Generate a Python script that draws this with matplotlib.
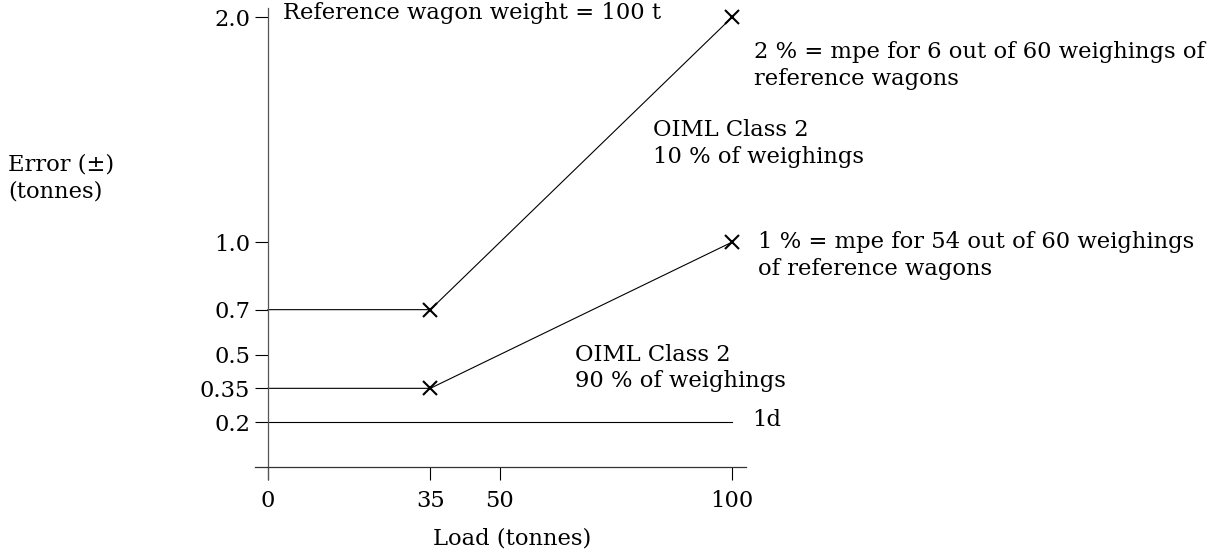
import matplotlib
matplotlib.use("Agg")
import matplotlib.pyplot as plt

# ─────────────────────────────────────────────────────────────
#  Data
# ─────────────────────────────────────────────────────────────
load = [0, 35, 100]
class2_10pct = [0.7, 0.7, 2.0]
class2_90pct = [0.35, 0.35, 1.0]
one_d_load = [0, 100]
one_d = [0.2, 0.2]

x_ticks = [0, 35, 50, 100]
y_ticks = [0.2, 0.35, 0.5, 0.7, 1.0, 2.0]
y_tick_labels = ["0.2", "0.35", "0.5", "0.7", "1.0", "2.0"]

plt.rcParams["font.family"] = ["DejaVu Serif"]
FS = 16.3
LS = 1.27

fig = plt.figure(figsize=(12.24, 5.58), dpi=100)
ax = fig.add_axes([0.2083, 0.1409, 0.401, 0.844])
ax.set_xlim(-2.8, 103)
ax.set_ylim(-0.055, 2.04)

# lines + markers
ax.plot(load, class2_10pct, color="black", lw=0.8)
ax.plot(load, class2_90pct, color="black", lw=0.8)
ax.plot(one_d_load, one_d, color="black", lw=0.8)
ax.plot(load[1:], class2_10pct[1:], ls="none", marker="x", ms=10,
        mew=1.5, color="black")
ax.plot(load[1:], class2_90pct[1:], ls="none", marker="x", ms=10,
        mew=1.5, color="black")

# axes styling
for s in ("top", "right"):
    ax.spines[s].set_visible(False)
ax.spines["left"].set_position(("data", 0))
ax.spines["bottom"].set_position(("data", 0))
ax.spines["left"].set_color("#555555")
ax.spines["bottom"].set_color("#333333")
ax.spines["left"].set_linewidth(0.9)
ax.spines["bottom"].set_linewidth(0.9)

ax.set_xticks(x_ticks)
ax.set_xticklabels([str(v) for v in x_ticks])
ax.set_yticks(y_ticks)
ax.set_yticklabels(y_tick_labels)
ax.tick_params(axis="y", direction="out", length=9.4, width=0.8,
               pad=3.5, labelsize=FS)
ax.tick_params(axis="x", direction="out", length=9.4, width=0.8,
               pad=7, labelsize=FS)

# annotations
ax.text(3.2, 2.07, "Reference wagon weight = 100 t", fontsize=FS,
        va="top", ha="left", clip_on=False)
ax.text(104.8, 1.785, "2 % = mpe for 6 out of 60 weighings of\nreference wagons",
        fontsize=FS, va="center", ha="left", linespacing=LS)
ax.text(83, 1.44, "OIML Class 2\n10 % of weighings", fontsize=FS,
        va="center", ha="left", linespacing=LS)
ax.text(105.6, 0.94, "1 % = mpe for 54 out of 60 weighings\nof reference wagons",
        fontsize=FS, va="center", ha="left", linespacing=LS)
ax.text(66.2, 0.44, "OIML Class 2\n90 % of weighings", fontsize=FS,
        va="center", ha="left", linespacing=LS)
ax.text(104.3, 0.21, "1d", fontsize=FS, va="center", ha="left")

fig.text(8 / 1224, 1 - 178 / 558, "Error (\u00b1)\n(tonnes)", fontsize=FS,
         va="center", ha="left", linespacing=LS)
fig.text(512 / 1224, 1 - 538 / 558, "Load (tonnes)", fontsize=FS,
         va="center", ha="center")

fig.savefig("out.png", dpi=100)
